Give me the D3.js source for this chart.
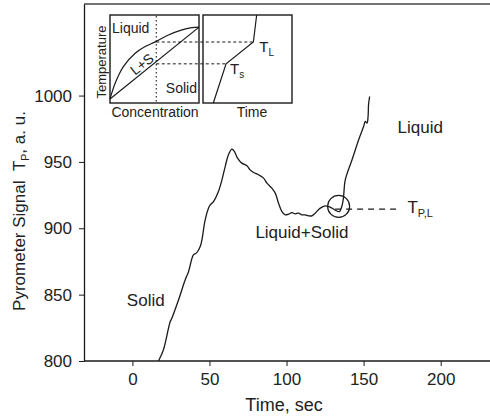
<!DOCTYPE html>
<html><head><meta charset="utf-8">
<script src="https://cdn.jsdelivr.net/npm/d3@7"></script>
<style>
html,body{margin:0;padding:0;background:#fff;}
svg{display:block;font-family:"Liberation Sans",Arial,sans-serif;}
</style></head>
<body><svg id="c" width="490" height="418"></svg>
<script>
// ---- main data: pyrometer signal vs time ----
const times = [16.9,20.1,24.5,25.6,29.9,34.2,36.4,39.6,41.8,44.0,45.1,47.2,49.4,50.5,52.6,55.8,58.1,60.2,62.3,64.5,66.2,68.2,71.0,74.3,76.4,78.6,81.8,85.1,87.3,90.5,92.7,94.8,97.0,99.2,101.3,103.5,105.6,107.8,110.0,112.1,114.3,116.5,118.6,121.9,125.1,127.3,129.5,131.7,134.3,136.2,137.0,138.1,142.5,146.8,150.0,151.1,152.2,152.9,153.2,153.9];
const signal = [800,808.3,829.6,832.2,845.9,861.0,867.3,879.9,881.7,886.2,891.3,906.3,915.2,917.6,920.1,927.7,936.5,946.5,955.4,959.7,957.8,952.9,949.1,947.1,944.0,942.0,940.3,937.8,934.0,930.2,926.5,918.9,912.6,910.1,910.6,911.8,910.9,911.4,910.1,910.1,909.4,909.4,911.4,915.2,916.9,916.4,915.2,913.6,912.6,918.0,923.9,936.5,951.6,966.7,976.7,980.5,979.3,984.2,993.1,999.3];
const xTicks = [0,50,100,150,200];
const yTicks = [800,850,900,950,1000];
const tPL = 914.5;            // liquidus pyrometer signal
const circleAt = [133.8,916.5];

// ---- inset (schematic, normalised units) ----
const liqC = [0,0.06,0.15,0.28,0.40,0.51,0.65,0.80,0.92,1.0];
const liqT = [0.046,0.23,0.414,0.563,0.644,0.695,0.77,0.828,0.856,0.862];
const solC = [0,1];
const solT = [0.046,0.862];
const alloyC = 0.52;
const TL = 0.693, TS = 0.445;
const coolTime = [0.116,0.259,0.566,0.603];
const coolTemp = [0,TS,TL,1];

const svg = d3.select("#c");
const W=490,H=418;
const x = d3.scaleLinear().domain([-31.4,232]).range([84,490]);
const y = d3.scaleLinear().domain([800,1069]).range([361,4]);
const ink="#1a1a1a";

// frame: top + left + bottom
svg.append("line").attr("x1",84).attr("x2",W).attr("y1",y(1069)).attr("y2",y(1069)).attr("stroke","#444").attr("stroke-width",1.6);
const gx = svg.append("g").attr("transform",`translate(0,${y(800)})`)
  .call(d3.axisBottom(x).tickValues(xTicks).tickFormat(d3.format("d")).tickSize(5).tickSizeOuter(0).tickPadding(7));
const gy = svg.append("g").attr("transform",`translate(${x(-31.4)},0)`)
  .call(d3.axisLeft(y).tickValues(yTicks).tickFormat(d3.format("d")).tickSize(5).tickSizeOuter(0).tickPadding(7));
[gx,gy].forEach(g=>{
  g.select(".domain").attr("stroke",ink).attr("stroke-width",1.3);
  g.selectAll(".tick line").attr("stroke",ink).attr("stroke-width",1);
  g.selectAll("text").attr("font-size",17).attr("fill","#222").attr("font-family","Liberation Sans, Arial, sans-serif");
});
gx.select(".domain").attr("d",`M84,0H${W}`);

// axis titles
svg.append("text").attr("x",284).attr("y",411).attr("text-anchor","middle").attr("font-size",18).attr("fill","#222").text("Time, sec");
const yl = svg.append("text").attr("transform","translate(25,211) rotate(-90)").attr("text-anchor","middle").attr("font-size",17).attr("fill","#222");
yl.append("tspan").text("Pyrometer Signal\u00a0\u00a0T");
yl.append("tspan").attr("font-size",10.5).attr("dy",4).text("P");
yl.append("tspan").attr("dy",-4).text(", a. u.");

// main curve
const pts = times.map((t,i)=>[t,signal[i]]);
svg.append("path").datum(pts)
  .attr("d",d3.line().x(d=>x(d[0])).y(d=>y(d[1])).curve(d3.curveCatmullRom.alpha(0.5)))
  .attr("fill","none").attr("stroke",ink).attr("stroke-width",1.3);

// circle + dashed TPL line
svg.append("circle").attr("cx",x(circleAt[0])).attr("cy",y(circleAt[1])).attr("r",11)
  .attr("fill","none").attr("stroke",ink).attr("stroke-width",1.2);
svg.append("line").attr("x1",x(131.5)).attr("x2",x(174)).attr("y1",y(tPL)).attr("y2",y(tPL))
  .attr("stroke",ink).attr("stroke-width",1.2).attr("stroke-dasharray","6,5");
const tp = svg.append("text").attr("x",x(178.4)).attr("y",y(911.6)).attr("font-size",17).attr("fill","#222");
tp.append("tspan").text("T");
tp.append("tspan").attr("font-size",11).attr("dy",4).text("P,L");

// region labels
svg.append("text").attr("x",x(172)).attr("y",y(972)).attr("font-size",17).attr("fill","#222").text("Liquid");
svg.append("text").attr("x",x(79.8)).attr("y",y(892.8)).attr("font-size",17).attr("fill","#222").text("Liquid+Solid");
svg.append("text").attr("x",x(-3.6)).attr("y",y(841.6)).attr("font-size",17).attr("fill","#222").text("Solid");

// ---- inset ----
const cx = d3.scaleLinear().domain([0,1]).range([110,199]);
const ty = d3.scaleLinear().domain([0,1]).range([103,15]);
const tx = d3.scaleLinear().domain([0,1]).range([203,292]);
const ins = svg.append("g");
ins.append("rect").attr("x",cx(0)).attr("y",ty(1)).attr("width",cx(1)-cx(0)).attr("height",ty(0)-ty(1))
  .attr("fill","#fff").attr("stroke",ink).attr("stroke-width",1.4);
ins.append("rect").attr("x",tx(0)).attr("y",ty(1)).attr("width",tx(1)-tx(0)).attr("height",ty(0)-ty(1))
  .attr("fill","#fff").attr("stroke",ink).attr("stroke-width",1.4);
ins.append("path").datum(liqC.map((c,i)=>[c,liqT[i]]))
  .attr("d",d3.line().x(d=>cx(d[0])).y(d=>ty(d[1])).curve(d3.curveCatmullRom))
  .attr("fill","none").attr("stroke",ink).attr("stroke-width",1.2);
ins.append("path").datum(solC.map((c,i)=>[c,solT[i]]))
  .attr("d",d3.line().x(d=>cx(d[0])).y(d=>ty(d[1])))
  .attr("fill","none").attr("stroke",ink).attr("stroke-width",1.2);
ins.append("line").attr("x1",cx(alloyC)).attr("x2",cx(alloyC)).attr("y1",ty(0.99)).attr("y2",ty(0))
  .attr("stroke",ink).attr("stroke-width",1.1).attr("stroke-dasharray","1.5,2.5");
const coolPts = coolTime.map((t,i)=>[t,coolTemp[i]]);
ins.append("path").datum(coolPts)
  .attr("d",d3.line().x(d=>tx(d[0])).y(d=>ty(d[1])))
  .attr("fill","none").attr("stroke",ink).attr("stroke-width",1.2);
ins.append("line").attr("x1",cx(alloyC)).attr("x2",tx(coolTime[2])).attr("y1",ty(TL)).attr("y2",ty(TL))
  .attr("stroke",ink).attr("stroke-width",1).attr("stroke-dasharray","3,2.5");
ins.append("line").attr("x1",cx(alloyC)).attr("x2",tx(coolTime[1])).attr("y1",ty(TS)).attr("y2",ty(TS))
  .attr("stroke",ink).attr("stroke-width",1).attr("stroke-dasharray","3,2.5");
const fs=14;
ins.append("text").attr("x",112).attr("y",33).attr("font-size",fs).attr("fill","#222").text("Liquid");
ins.append("text").attr("x",197).attr("y",93).attr("text-anchor","end").attr("font-size",fs).attr("fill","#222").text("Solid");
ins.append("text").attr("transform","translate(145,68) rotate(-38)").attr("text-anchor","middle").attr("font-size",fs).attr("fill","#222").text("L+S");
ins.append("text").attr("x",155).attr("y",117).attr("text-anchor","middle").attr("font-size",fs).attr("fill","#222").text("Concentration");
ins.append("text").attr("x",252).attr("y",117).attr("text-anchor","middle").attr("font-size",fs).attr("fill","#222").text("Time");
ins.append("text").attr("transform","translate(106,62) rotate(-90)").attr("text-anchor","middle").attr("font-size",13).attr("fill","#222").text("Temperature");
const tl = ins.append("text").attr("x",tx(coolTime[2])+6).attr("y",ty(TL)+10).attr("font-size",15).attr("fill","#222");
tl.append("tspan").text("T"); tl.append("tspan").attr("font-size",10).attr("dy",4).text("L");
const ts = ins.append("text").attr("x",tx(coolTime[1])+4).attr("y",ty(TS)+10).attr("font-size",15).attr("fill","#222");
ts.append("tspan").text("T"); ts.append("tspan").attr("font-size",10).attr("dy",4).text("s");
</script></body></html>
